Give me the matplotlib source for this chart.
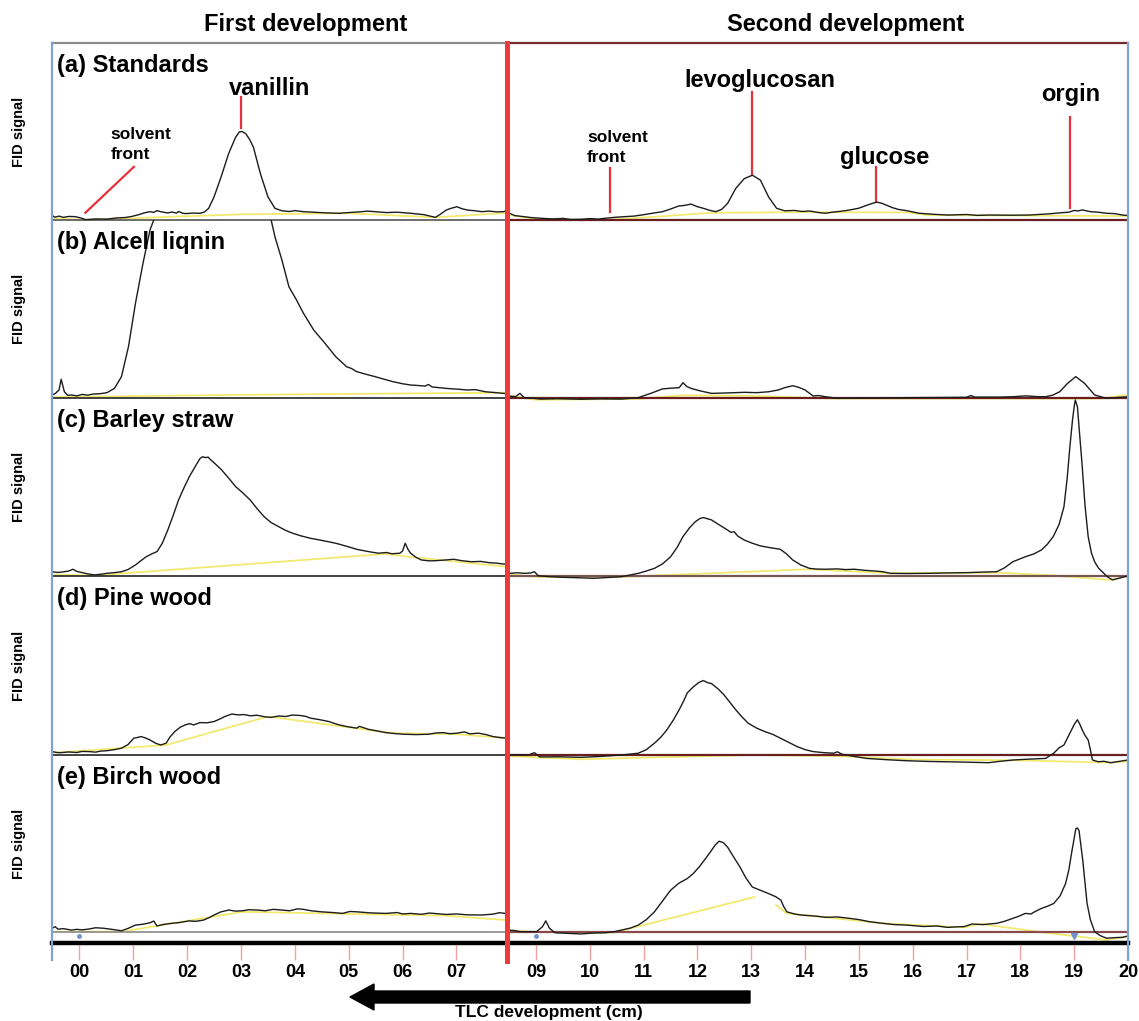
import numpy as np
import matplotlib
matplotlib.use('Agg')
from matplotlib import pyplot as plt
from matplotlib.lines import Line2D
from matplotlib.patches import FancyArrow

plt.rcParams['font.family'] = ['Liberation Sans', 'DejaVu Sans']
plt.rcParams['font.weight'] = 'bold'

W, H = 1139, 1021

# ---- traces: (position on plate in cm, FID signal in % of panel height) ----
A_LEFT = [(-0.51, 2.5), (-0.45, 1.6), (-0.38, 2.2), (-0.3, 1.5), (-0.2, 2.0), (-0.08, 1.9), (0.02, 1.2),
          (0.12, 0.2), (0.3, 0.6), (0.51, 0.5), (0.7, 1.2), (0.85, 1.4), (0.97, 2.0), (1.1, 3.0), (1.2, 4.0),
          (1.31, 4.7), (1.38, 4.3), (1.44, 5.3), (1.52, 4.6), (1.64, 4.0), (1.72, 4.5), (1.8, 3.9), (1.84, 4.8),
          (1.92, 3.8), (1.97, 3.6), (2.1, 3.9), (2.24, 3.8), (2.32, 4.5), (2.40, 6.6), (2.50, 13.1), (2.63, 24.3),
          (2.77, 37.5), (2.90, 46.8), (2.97, 49.8), (3.02, 50.0), (3.09, 48.7), (3.16, 45.5), (3.23, 41.2),
          (3.36, 26.2), (3.50, 13.1), (3.63, 6.6), (3.76, 5.2), (3.9, 4.8), (4.0, 5.3), (4.16, 4.7), (4.4, 4.3),
          (4.6, 4.0), (4.82, 3.8), (5.0, 4.2), (5.2, 4.6), (5.35, 5.0), (5.49, 4.7), (5.7, 4.2), (5.9, 4.4),
          (6.15, 3.8), (6.4, 3.0), (6.61, 1.5), (6.7, 3.2), (6.81, 5.6), (6.9, 6.6), (7.01, 7.5), (7.1, 6.4),
          (7.21, 5.6), (7.35, 5.2), (7.47, 4.7), (7.6, 5.0), (7.75, 4.6), (7.88, 4.7), (7.94, 5.5)]
A_LEFT_BASE = [(-0.51, 1.0), (0.12, 0.0), (1.5, 1.6), (3.0, 3.2), (5.0, 3.8), (6.61, 1.5), (7.94, 4.0)]
A_RIGHT = [(8.46, 4.5), (8.51, 3.8), (8.6, 2.5), (8.77, 1.9), (8.9, 1.4), (9.08, 1.0), (9.3, 0.6), (9.5, 0.9),
           (9.65, 0.3), (9.84, 0.4), (10.0, 0.8), (10.15, 0.5), (10.29, 1.0), (10.5, 1.6), (10.65, 1.9),
           (10.82, 2.2), (11.0, 3.0), (11.2, 4.0), (11.35, 4.7), (11.5, 6.2), (11.65, 7.9), (11.75, 8.2),
           (11.88, 9.0), (12.0, 7.5), (12.11, 6.6), (12.22, 5.5), (12.34, 4.7), (12.45, 6.0), (12.56, 9.4),
           (12.71, 17.8), (12.87, 23.4), (13.02, 25.3), (13.17, 22.5), (13.32, 13.1), (13.47, 6.6), (13.62, 5.2),
           (13.8, 5.4), (13.95, 4.8), (14.08, 5.1), (14.25, 4.2), (14.38, 3.8), (14.5, 4.4), (14.60, 4.7),
           (14.8, 5.5), (14.99, 6.6), (15.1, 7.8), (15.21, 9.0), (15.33, 10.1), (15.42, 9.5), (15.51, 8.4),
           (15.62, 7.0), (15.73, 6.0), (15.9, 5.2), (16.12, 3.8), (16.4, 3.2), (16.65, 2.8), (17.0, 3.1),
           (17.2, 2.6), (17.41, 2.8), (17.8, 2.7), (18.16, 2.8), (18.5, 3.4), (18.76, 4.1), (18.9, 4.4),
           (19.0, 5.4), (19.07, 5.1), (19.15, 5.7), (19.30, 4.7), (19.45, 4.4), (19.60, 3.8), (19.75, 3.6),
           (19.90, 2.8), (20.0, 2.5)]
A_RIGHT_BASE = [(8.46, 3.0), (9.0, 0.5), (10.3, 0.0), (11.3, 2.0), (12.26, 4.1), (14.0, 4.4), (15.89, 4.3),
                (16.27, 2.8), (20.0, 2.2)]

B_LEFT = [(-0.51, 1.7), (-0.45, 2.5), (-0.38, 4.5), (-0.34, 10.5), (-0.28, 3.5), (-0.22, 1.5), (-0.15, 1.7),
          (-0.05, 1.2), (0.05, 2.0), (0.15, 1.6), (0.25, 2.2), (0.38, 2.4), (0.51, 3.0), (0.65, 5.4),
          (0.78, 12.0), (0.91, 28.8), (1.04, 53.2), (1.18, 75.7), (1.31, 94.4), (1.38, 100), (1.6, 118),
          (2.0, 130), (2.5, 132), (3.0, 122), (3.4, 108), (3.56, 100), (3.63, 90.6), (3.76, 77.5), (3.89, 62.5),
          (4.03, 55.1), (4.16, 47.6), (4.35, 38.2), (4.56, 30.7), (4.76, 23.2), (4.96, 17.6), (5.05, 16.6),
          (5.15, 14.8), (5.3, 13.5), (5.49, 12.0), (5.65, 10.6), (5.82, 9.2), (6.0, 8.0), (6.15, 7.3),
          (6.3, 7.0), (6.42, 6.7), (6.48, 7.6), (6.55, 6.2), (6.81, 5.4), (7.0, 5.0), (7.21, 4.5), (7.35, 4.7),
          (7.54, 3.5), (7.7, 3.1), (7.88, 2.6), (7.94, 2.4)]
B_LEFT_BASE = [(-0.51, 0.5), (3.0, 1.8), (7.94, 3.0)]
B_RIGHT = [(8.46, 2.0), (8.52, 1.0), (8.62, 0.8), (8.70, 2.6), (8.78, 0.2), (8.9, 0.0), (9.08, -0.6),
           (9.4, -0.4), (9.83, -0.7), (10.2, -0.5), (10.59, -0.6), (10.9, 0.2), (11.13, 2.6), (11.35, 5.1),
           (11.5, 5.5), (11.66, 5.8), (11.73, 8.6), (11.8, 6.5), (11.88, 5.4), (12.05, 4.0), (12.26, 2.6),
           (12.5, 2.8), (12.7, 3.0), (12.87, 3.2), (13.1, 3.0), (13.32, 3.5), (13.5, 4.5), (13.62, 5.8),
           (13.77, 6.9), (13.88, 6.0), (14.0, 4.5), (14.15, 1.1), (14.25, 1.4), (14.38, 0.7), (14.6, -0.2),
           (15.2, 0.0), (15.89, 0.2), (16.5, 0.3), (17.0, 0.4), (17.08, 1.4), (17.15, 0.5), (17.6, 0.5),
           (17.85, 0.7), (18.1, 1.2), (18.3, 0.8), (18.47, 0.7), (18.6, 1.6), (18.73, 3.5), (18.88, 8.3),
           (19.03, 12.0), (19.19, 8.3), (19.38, 1.7), (19.60, -0.2), (19.8, 0.3), (20.0, 0.7)]
B_RIGHT_BASE = [(8.46, 1.5), (9.0, -1.0), (10.9, -0.5), (11.73, 1.5), (13.0, 1.2), (14.5, -0.3), (19.5, -0.3),
                (20.0, 1.8)]

C_LEFT = [(-0.51, 2.4), (-0.4, 2.0), (-0.28, 2.4), (-0.2, 2.8), (-0.12, 3.8), (-0.05, 2.6), (0.05, 1.9),
          (0.15, 1.2), (0.28, 0.6), (0.4, 1.0), (0.51, 1.5), (0.65, 1.9), (0.78, 2.4), (0.9, 3.6), (1.04, 6.2),
          (1.14, 8.6), (1.24, 10.8), (1.34, 12.4), (1.44, 13.7), (1.54, 18.5), (1.64, 25.8), (1.74, 34.0),
          (1.84, 42.7), (1.94, 49.5), (2.04, 55.8), (2.14, 61.0), (2.24, 66.1), (2.29, 67.0), (2.34, 66.5),
          (2.39, 66.8), (2.44, 65.2), (2.54, 62.5), (2.64, 59.6), (2.77, 55.0), (2.90, 50.2), (3.03, 46.8),
          (3.17, 42.7), (3.30, 37.8), (3.43, 33.3), (3.56, 30.0), (3.70, 27.7), (3.83, 25.6), (3.96, 24.0),
          (4.12, 22.5), (4.29, 21.2), (4.5, 20.0), (4.76, 18.4), (4.95, 16.8), (5.15, 15.0), (5.35, 13.8),
          (5.55, 12.8), (5.7, 13.2), (5.8, 12.5), (5.95, 12.8), (6.0, 14.0), (6.05, 18.4), (6.1, 15.0),
          (6.15, 12.8), (6.25, 10.5), (6.35, 9.0), (6.5, 8.5), (6.61, 8.6), (6.8, 9.0), (6.95, 9.4), (7.1, 8.6),
          (7.28, 8.0), (7.45, 8.2), (7.61, 7.5), (7.75, 7.2), (7.88, 6.7), (7.94, 6.8)]
C_LEFT_BASE = [(-0.51, 0.8), (0.28, 0.3), (5.68, 12.4), (6.2, 10.5), (7.94, 5.2)]
C_RIGHT = [(8.46, 5.5), (8.51, 1.5), (8.65, 1.8), (8.78, 1.5), (8.9, 1.7), (8.97, 2.4), (9.04, 0.2),
           (9.2, -0.3), (9.46, -0.7), (9.8, -1.0), (10.07, -1.3), (10.35, -0.8), (10.59, -0.4), (10.9, 1.5),
           (11.05, 2.8), (11.20, 4.3), (11.35, 6.8), (11.50, 10.8), (11.62, 16.0), (11.73, 22.1), (11.85, 27.0),
           (11.96, 30.5), (12.05, 32.4), (12.11, 32.8), (12.18, 32.2), (12.26, 31.5), (12.4, 28.8),
           (12.56, 25.8), (12.62, 24.5), (12.68, 24.9), (12.75, 22.4), (12.87, 20.2), (13.0, 18.6),
           (13.17, 16.9), (13.35, 15.9), (13.54, 15.0), (13.65, 12.5), (13.77, 9.0), (13.92, 6.2), (14.08, 4.3),
           (14.2, 3.9), (14.38, 3.8), (14.6, 4.0), (14.75, 3.6), (14.91, 3.8), (15.1, 3.2), (15.3, 2.8),
           (15.44, 2.4), (15.59, 1.5), (15.9, 1.4), (16.27, 1.5), (16.6, 1.7), (17.03, 1.9), (17.3, 2.2),
           (17.56, 2.4), (17.7, 4.5), (17.86, 8.0), (18.09, 10.8), (18.25, 12.4), (18.39, 14.6), (18.5, 17.8),
           (18.61, 22.1), (18.72, 29.0), (18.81, 38.9), (18.87, 55.0), (18.92, 72.6), (18.97, 88.0),
           (19.0, 95.1), (19.02, 98.9), (19.06, 95.1), (19.1, 80.0), (19.15, 61.4), (19.2, 40.0), (19.26, 22.1),
           (19.32, 13.0), (19.38, 8.0), (19.45, 4.5), (19.52, 2.4), (19.62, -0.5), (19.71, -2.2), (19.8, -1.5),
           (19.90, -0.7), (20.0, 0.0)]
C_RIGHT_BASE = [(8.46, 1.0), (9.04, -0.5), (10.6, -0.5), (11.0, 0.0), (14.08, 3.8), (15.59, 1.5), (17.56, 1.9),
                (18.5, 0.5), (19.67, -2.2), (20.0, 0.0)]

D_LEFT = [(-0.51, 1.9), (-0.42, 1.4), (-0.35, 1.3), (-0.2, 1.7), (-0.05, 1.4), (0.05, 2.0), (0.18, 1.9),
          (0.3, 1.6), (0.4, 2.2), (0.51, 2.4), (0.65, 3.0), (0.78, 3.8), (0.9, 5.8), (1.01, 9.4), (1.08, 9.8),
          (1.14, 10.3), (1.22, 9.6), (1.31, 8.4), (1.42, 6.5), (1.51, 5.6), (1.61, 6.6), (1.68, 10.0),
          (1.77, 13.1), (1.87, 15.5), (1.97, 16.9), (2.05, 17.5), (2.12, 16.8), (2.24, 18.1), (2.37, 18.0),
          (2.50, 18.7), (2.6, 20.0), (2.70, 21.5), (2.83, 22.9), (2.95, 22.4), (3.05, 22.6), (3.17, 21.9),
          (3.3, 22.2), (3.45, 21.3), (3.56, 21.0), (3.7, 21.8), (3.83, 21.5), (3.95, 22.3), (4.09, 22.1),
          (4.2, 21.6), (4.29, 20.6), (4.45, 19.8), (4.63, 18.7), (4.8, 17.0), (4.96, 15.9), (5.15, 15.0),
          (5.2, 16.0), (5.36, 14.4), (5.5, 13.6), (5.69, 12.5), (5.85, 12.0), (6.02, 11.6), (6.25, 11.4),
          (6.48, 11.6), (6.62, 12.3), (6.75, 12.5), (6.88, 11.9), (7.01, 12.2), (7.15, 12.9), (7.25, 11.8),
          (7.41, 12.2), (7.55, 11.4), (7.68, 10.3), (7.8, 9.8), (7.94, 9.4)]
D_LEFT_BASE = [(-0.51, 1.2), (1.61, 5.6), (3.5, 21.5), (5.82, 12.2), (7.01, 11.6), (7.94, 9.4)]
D_RIGHT = [(8.46, 9.4), (8.48, 0.0), (8.6, 0.2), (8.86, 0.0), (8.97, 1.3), (9.07, -1.1), (9.4, -1.0),
           (9.84, -1.3), (10.2, -0.8), (10.59, 0.0), (10.90, 1.0), (11.05, 3.0), (11.20, 6.6), (11.32, 10.0),
           (11.43, 14.0), (11.55, 19.5), (11.66, 25.3), (11.74, 30.0), (11.81, 34.7), (11.92, 38.0),
           (12.03, 40.6), (12.11, 41.6), (12.18, 40.5), (12.26, 39.9), (12.38, 37.0), (12.49, 33.7),
           (12.6, 29.5), (12.71, 25.3), (12.82, 21.5), (12.94, 17.8), (13.1, 15.0), (13.25, 13.1), (13.4, 11.5),
           (13.54, 9.4), (13.7, 7.0), (13.85, 4.7), (14.0, 3.0), (14.15, 1.9), (14.35, 1.3), (14.53, 1.0),
           (14.6, 1.8), (14.68, 0.5), (14.76, 0.0), (14.95, -1.0), (15.14, -1.9), (15.5, -2.6), (15.89, -3.2),
           (16.3, -3.6), (16.65, -3.8), (17.0, -4.0), (17.41, -4.3), (17.6, -3.6), (17.86, -2.8), (18.1, -2.4),
           (18.47, -1.9), (18.62, 1.0), (18.72, 4.0), (18.81, 5.6), (18.92, 12.2), (19.0, 17.0), (19.06, 19.7),
           (19.1, 17.5), (19.15, 14.0), (19.2, 11.0), (19.26, 8.4), (19.3, 3.0), (19.34, -2.8), (19.45, -3.8),
           (19.55, -3.5), (19.68, -4.3), (19.85, -3.5), (20.0, -2.8)]
D_RIGHT_BASE = [(8.46, -0.6), (9.84, -2.4), (11.0, -1.5), (13.0, 0.0), (14.5, -0.5), (16.0, -2.5),
                (18.0, -3.0), (19.7, -4.3), (20.0, -3.5)]

E_LEFT = [(-0.51, 2.1), (-0.45, 3.0), (-0.4, 1.6), (-0.3, 1.9), (-0.15, 1.1), (-0.05, 1.5), (0.05, 1.2),
          (0.18, 1.7), (0.3, 2.4), (0.45, 2.1), (0.6, 1.5), (0.78, 0.7), (0.9, 2.0), (1.04, 3.9), (1.18, 4.4),
          (1.31, 5.2), (1.38, 6.2), (1.44, 3.4), (1.55, 4.2), (1.71, 4.9), (1.85, 5.3), (2.04, 6.3), (2.15, 6.0),
          (2.30, 6.7), (2.4, 8.0), (2.50, 9.6), (2.62, 11.3), (2.77, 12.4), (2.9, 11.8), (3.03, 12.0),
          (3.15, 12.6), (3.30, 12.4), (3.45, 12.0), (3.6, 12.8), (3.76, 12.4), (3.9, 12.0), (4.05, 13.1),
          (4.16, 12.8), (4.3, 12.0), (4.49, 11.4), (4.7, 11.0), (4.89, 10.5), (5.02, 11.6), (5.15, 11.4),
          (5.4, 10.8), (5.69, 10.5), (5.9, 11.0), (6.0, 10.2), (6.15, 10.5), (6.35, 10.0), (6.5, 10.7),
          (6.81, 9.9), (7.0, 10.2), (7.2, 9.7), (7.47, 9.6), (7.68, 10.1), (7.8, 10.9), (7.91, 10.5), (7.94, 11.0)]
E_LEFT_BASE = [(-0.51, 0.2), (0.78, 0.2), (3.03, 11.4), (6.81, 9.2), (7.94, 6.7)]
E_RIGHT = [(8.46, 10.5), (8.47, 1.1), (8.6, 0.8), (8.70, 0.2), (9.01, 0.2), (9.12, 3.0), (9.18, 6.3),
           (9.25, 2.1), (9.35, -0.4), (9.6, -0.8), (9.84, -1.1), (10.05, -0.6), (10.29, -0.4), (10.45, 0.2),
           (10.59, 1.1), (10.75, 2.2), (10.90, 3.9), (11.05, 7.0), (11.20, 11.4), (11.35, 17.5), (11.50, 23.6),
           (11.65, 27.5), (11.81, 30.2), (11.92, 33.0), (12.03, 36.7), (12.15, 41.5), (12.26, 46.1),
           (12.33, 49.2), (12.40, 51.3), (12.48, 50.5), (12.56, 47.9), (12.68, 42.0), (12.79, 36.7),
           (12.9, 30.5), (13.02, 25.4), (13.15, 23.8), (13.32, 21.7), (13.45, 20.0), (13.55, 18.0), (13.6, 14.5),
           (13.66, 11.4), (13.8, 10.2), (13.92, 9.6), (14.1, 9.2), (14.25, 8.8), (14.38, 8.3), (14.6, 8.5),
           (14.83, 7.7), (15.0, 7.0), (15.2, 5.8), (15.44, 4.9), (15.65, 4.2), (15.89, 3.9), (16.2, 3.1),
           (16.45, 3.4), (16.65, 2.6), (16.8, 2.9), (16.95, 3.0), (17.10, 4.5), (17.3, 4.2), (17.56, 4.9),
           (17.7, 6.0), (17.86, 7.7), (17.98, 9.0), (18.09, 10.5), (18.2, 10.2), (18.25, 11.2), (18.39, 13.3),
           (18.5, 14.5), (18.62, 16.1), (18.74, 20.5), (18.84, 27.4), (18.9, 35.0), (18.96, 46.1), (19.0, 53.0),
           (19.03, 58.3), (19.06, 58.8), (19.09, 57.3), (19.12, 50.0), (19.16, 40.4), (19.2, 28.0),
           (19.24, 16.1), (19.3, 7.0), (19.38, 0.2), (19.48, -2.0), (19.60, -3.5), (19.75, -3.2), (19.90, -3.0),
           (20.0, -2.2)]
E_RIGHT_BASE = [(8.46, 1.0), (9.0, 0.0), (10.44, -0.4), (13.06, 19.8), (np.nan, np.nan), (13.46, 15.2),
                (13.66, 10.5), (14.38, 8.3), (15.44, 4.9), (16.95, 2.6), (17.26, 4.5), (18.47, -0.4),
                (19.6, -4.5), (20.0, -2.6)]

PANEL_TITLES = ['(a) Standards', '(b) Alcell liqnin', '(c) Barley straw', '(d) Pine wood', '(e) Birch wood']
LEFT_TRACES = [A_LEFT, B_LEFT, C_LEFT, D_LEFT, E_LEFT]
LEFT_BASES = [A_LEFT_BASE, B_LEFT_BASE, C_LEFT_BASE, D_LEFT_BASE, E_LEFT_BASE]
RIGHT_TRACES = [A_RIGHT, B_RIGHT, C_RIGHT, D_RIGHT, E_RIGHT]
RIGHT_BASES = [A_RIGHT_BASE, B_RIGHT_BASE, C_RIGHT_BASE, D_RIGHT_BASE, E_RIGHT_BASE]

LEFT_TICKS = [0, 1, 2, 3, 4, 5, 6, 7]
RIGHT_TICKS = [9, 10, 11, 12, 13, 14, 15, 16, 17, 18, 19, 20]
LEFT_TICK_LABELS = ['00', '01', '02', '03', '04', '05', '06', '07']
RIGHT_TICK_LABELS = ['09', '10', '11', '12', '13', '14', '15', '16', '17', '18', '19', '20']

# ---- layout (pixels) ----
X0, XS, X1 = 52, 507, 1128
LEFT_LIM = (-0.51, 7.94)
RIGHT_LIM = (8.46, 20.0)
PANEL_TOPS = [43, 220, 398, 576, 755]
PANEL_BOTTOMS = [220, 398, 576, 755, 932]
LEFT_RULE = ['#555555', '#222222', '#222222', '#222222', '#8a8a8a']
RIGHT_RULE = ['#6a1e1e', '#6a1e1e', '#7a5555', '#6a1e1e', '#8a4a4a']
TRACE_COLOR = '#1c1c1c'
BASE_COLOR = '#f2ea70'
MARK_RED = '#e8323a'


def rect(x0, y0, x1, y1):
    return [x0 / W, 1 - y1 / H, (x1 - x0) / W, (y1 - y0) / H]


def fx(x):
    return x / W


def fy(y):
    return 1 - y / H


fig = plt.figure(figsize=(W / 100, H / 100), dpi=100)

panel_axes = []
for i in range(5):
    top, bottom = PANEL_TOPS[i], PANEL_BOTTOMS[i]
    unit = (bottom - top) / 100.0
    row = []
    for side in range(2):
        xa, xb = (X0, XS) if side == 0 else (XS, X1)
        ax = fig.add_axes(rect(xa, top, xb, bottom + 6 * unit))
        ax.set_xlim(LEFT_LIM if side == 0 else RIGHT_LIM)
        ax.set_ylim(-6, 100)
        ax.axis('off')
        trace = LEFT_TRACES[i] if side == 0 else RIGHT_TRACES[i]
        base = LEFT_BASES[i] if side == 0 else RIGHT_BASES[i]
        bx, by = zip(*base)
        ax.plot(bx, by, color=BASE_COLOR, lw=1.3, zorder=1)
        tx, ty = zip(*trace)
        ax.plot(tx, ty, color=TRACE_COLOR, lw=1.0, zorder=3)
        rule = LEFT_RULE[i] if side == 0 else RIGHT_RULE[i]
        ax.axhline(0, color=rule, lw=1.6 if side == 1 else 1.2, zorder=2)
        if i == 0:
            ax.axhline(100, color='#8c8c8c' if side == 0 else '#7a2a2a', lw=1.6, clip_on=False)
        row.append(ax)
    panel_axes.append(row)
    fig.text(fx(57), fy(top + 29), PANEL_TITLES[i], fontsize=17, va='baseline', ha='left')
    fig.text(fx(19), fy((top + bottom) / 2), 'FID signal', fontsize=10.5, rotation=90,
             ha='center', va='center')

# small markers at the bottom of panel (e)
panel_axes[4][0].plot([0], [-2.2], 'o', ms=2.5, color='#6f95d0', zorder=4)
panel_axes[4][1].plot([9], [-2.2], 'o', ms=2.5, color='#6f95d0', zorder=4)
panel_axes[4][1].plot([19], [-2.4], 'v', ms=5, color='#6f95d0', zorder=4)

# annotations in panel (a)
al, ar = panel_axes[0]
al.plot([0.11, 1.01], [4.1, 30.0], color=MARK_RED, lw=1.6)
al.text(0.58, 45.5, 'solvent', fontsize=12.5, va='baseline', ha='left')
al.text(0.58, 34.3, 'front', fontsize=12.5, va='baseline', ha='left')
al.plot([3.0, 3.0], [51.9, 69.3], color=MARK_RED, lw=1.6)
al.text(3.54, 70.8, 'vanillin', fontsize=17, va='baseline', ha='center')

ar.plot([10.38, 10.38], [4.7, 29.2], color=MARK_RED, lw=1.6)
ar.text(9.95, 44.0, 'solvent', fontsize=12.5, va='baseline', ha='left')
ar.text(9.95, 32.8, 'front', fontsize=12.5, va='baseline', ha='left')
ar.plot([13.02, 13.02], [26.2, 72.1], color=MARK_RED, lw=1.6)
ar.text(13.15, 75.3, 'levoglucosan', fontsize=17, va='baseline', ha='center')
ar.plot([15.32, 15.32], [10.3, 29.9], color=MARK_RED, lw=1.6)
ar.text(15.47, 31.5, 'glucose', fontsize=17, va='baseline', ha='center')
ar.plot([18.93, 18.93], [6.6, 58.0], color=MARK_RED, lw=1.6)
ar.text(18.94, 67.4, 'orgin', fontsize=17, va='baseline', ha='center')

# ruler along the bottom
for xa, xb, lim, ticks, labels in [(X0, XS, LEFT_LIM, LEFT_TICKS, LEFT_TICK_LABELS),
                                   (XS, X1, RIGHT_LIM, RIGHT_TICKS, RIGHT_TICK_LABELS)]:
    r = fig.add_axes(rect(xa, 943, xb, 960))
    r.set_xlim(lim)
    r.set_ylim(0, 1)
    r.set_yticks([])
    r.patch.set_alpha(0)
    for s in ['left', 'right', 'bottom']:
        r.spines[s].set_visible(False)
    r.spines['top'].set_linewidth(3.2)
    r.spines['top'].set_color('black')
    r.set_xticks(ticks)
    r.set_xticklabels(labels)
    r.tick_params(axis='x', direction='in', length=11, width=1, color='#f2a0a0', pad=3, labelsize=13)

# frame lines
fig.add_artist(Line2D([fx(X0)] * 2, [fy(43), fy(960)], color='#7fa3d6', lw=1.6))
fig.add_artist(Line2D([fx(X1)] * 2, [fy(43), fy(960)], color='#7fa3d6', lw=1.6))
fig.add_artist(Line2D([fx(XS)] * 2, [fy(43), fy(961)], color='#f03a3a', lw=3.6))

# headers
fig.text(fx(306), fy(31), 'First development', fontsize=17, ha='center', va='baseline')
fig.text(fx(846), fy(31), 'Second development', fontsize=17, ha='center', va='baseline')

# development direction arrow
arrow = FancyArrow(7.5, (H - 997) / 100, -4.0, 0, width=0.12, head_width=0.26, head_length=0.24,
                   length_includes_head=True, transform=fig.dpi_scale_trans, color='black')
fig.add_artist(arrow)
fig.text(fx(549), fy(1012), 'TLC development (cm)', fontsize=12.5, ha='center', va='center')

fig.savefig('out.png', dpi=100)
